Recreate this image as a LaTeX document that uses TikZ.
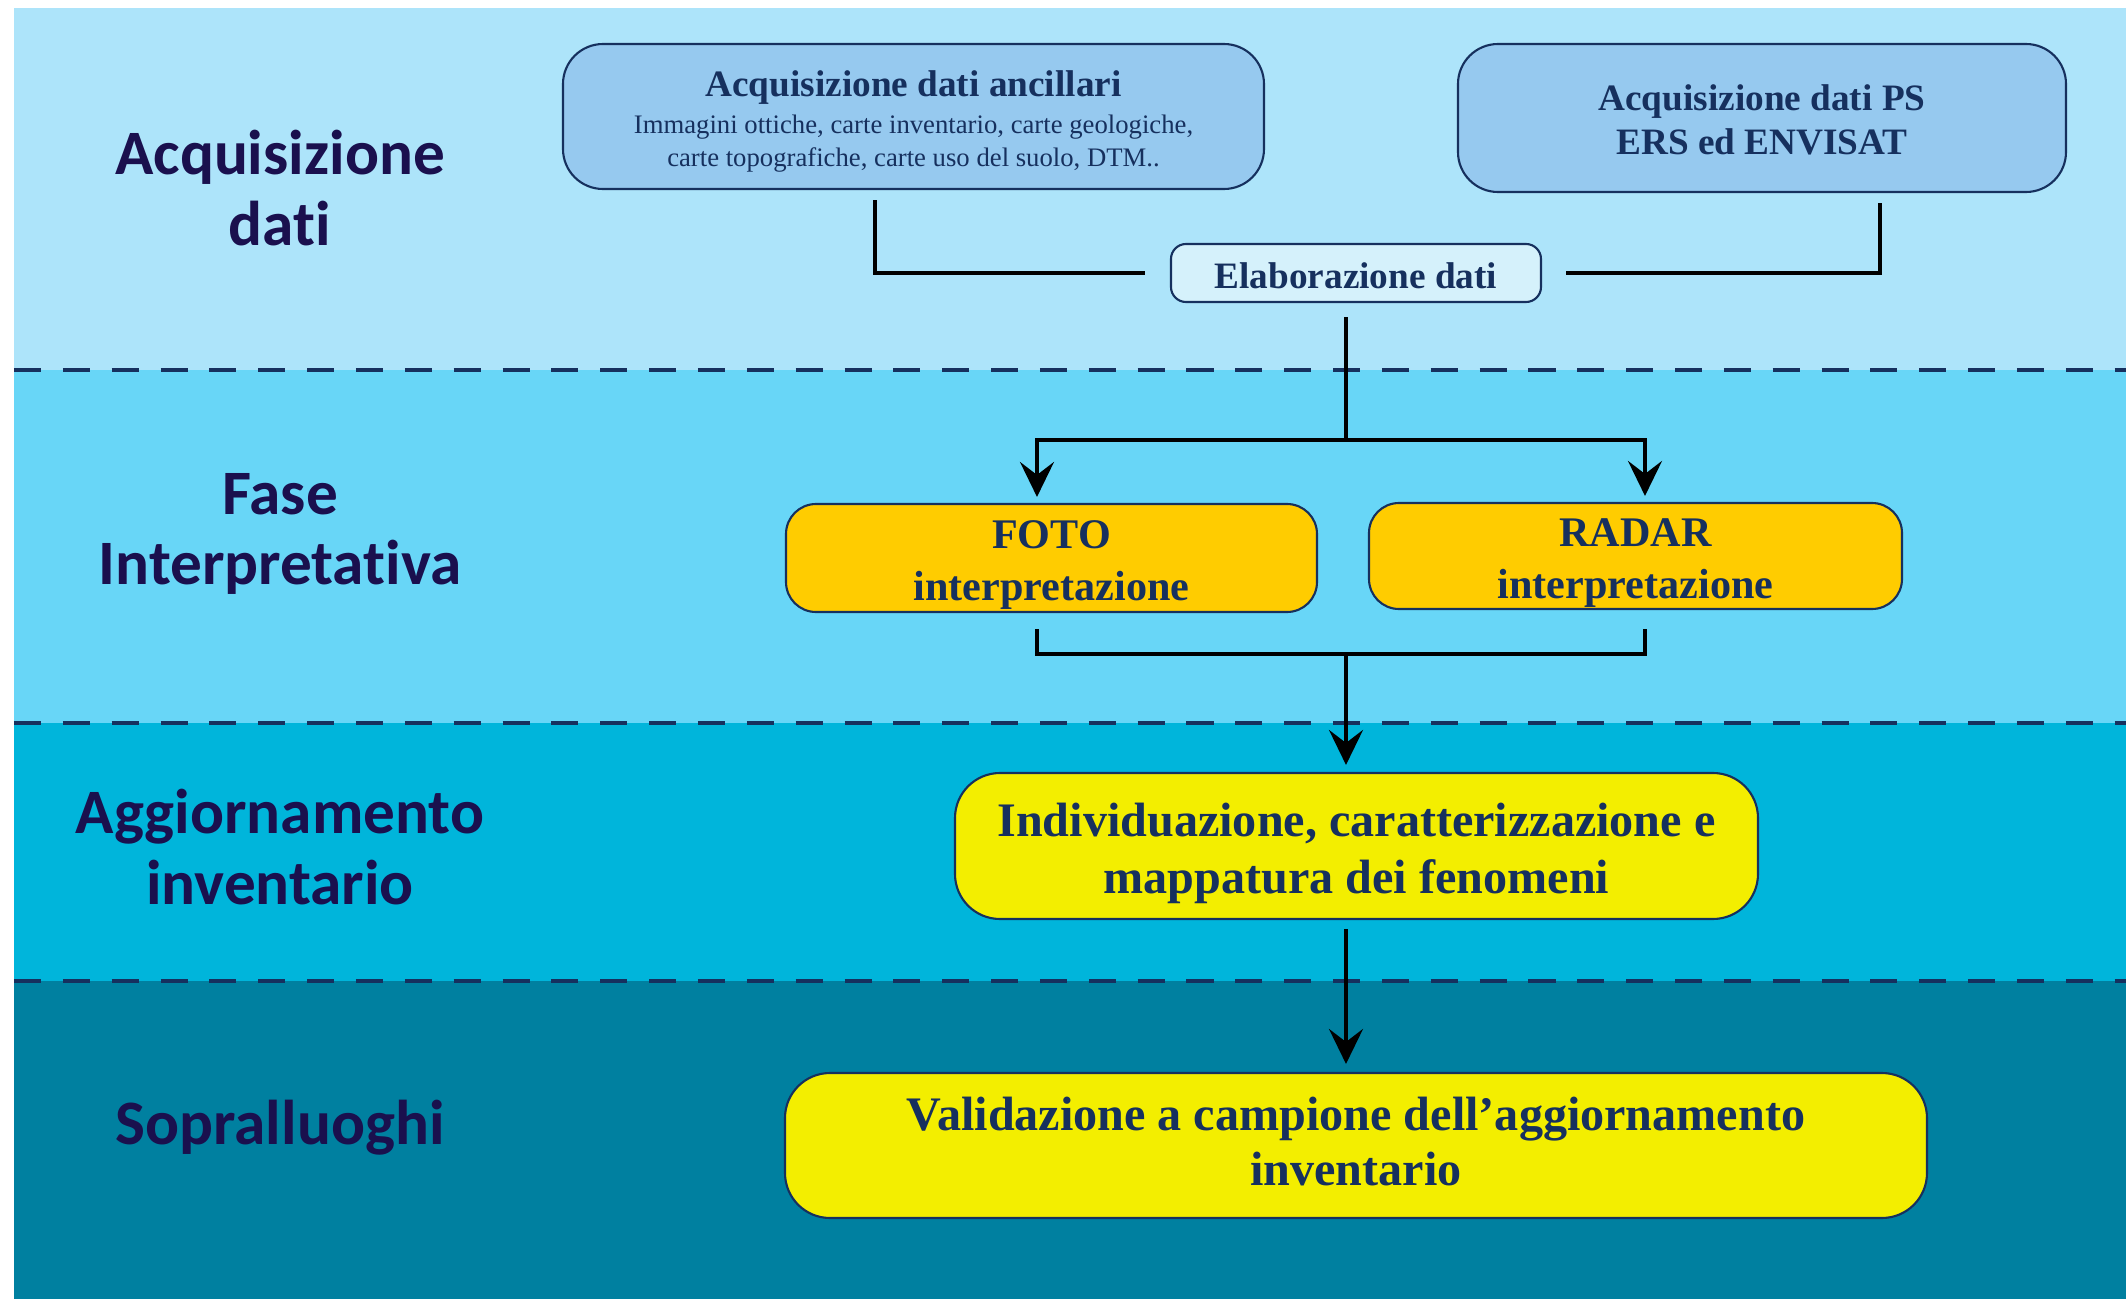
\documentclass[tikz,border=0pt]{standalone}
\usepackage{fontspec}
\setmainfont{Liberation Serif}
\newfontfamily\phasefont[Ligatures=NoCommon]{Carlito}
\usetikzlibrary{arrows.meta}
\definecolor{bandA}{RGB}{173,228,250}
\definecolor{bandB}{RGB}{104,214,247}
\definecolor{bandC}{RGB}{0,181,219}
\definecolor{bandD}{RGB}{0,128,160}
\definecolor{navy}{RGB}{22,48,94}
\definecolor{phase}{RGB}{26,16,78}
\definecolor{boxblue}{RGB}{150,201,239}
\definecolor{boxpale}{RGB}{213,241,251}
\definecolor{boxgold}{RGB}{255,204,0}
\definecolor{boxyellow}{RGB}{243,238,0}

\begin{document}
\begin{tikzpicture}[
  box/.style={draw=navy, line width=0.6pt, text=navy, font=\bfseries, align=flush center, inner sep=0pt, rounded corners=0.4cm},
  phaselab/.style={text=phase, align=center, font=\phasefont\bfseries\fontsize{18}{20}\selectfont},
  sep/.style={draw=navy, line width=0.9pt, dash pattern=on 7.7pt off 6.2pt},
  link/.style={line width=1pt},
  arr/.style={link, -{Stealth[length=3.5mm, width=3.4mm, inset=1.3mm]}}
]
  \useasboundingbox (0,0) rectangle (21.26,-12.99);
  \fill[white] (0,0) rectangle (21.26,-12.99);
  \fill[bandA] (0.14,-0.08) rectangle (21.26,-3.70);
  \fill[bandB] (0.14,-3.70) rectangle (21.26,-7.23);
  \fill[bandC] (0.14,-7.23) rectangle (21.26,-9.81);
  \fill[bandD] (0.14,-9.81) rectangle (21.26,-12.99);
  \foreach \y in {-3.70,-7.23,-9.81}
    \draw[sep] (0.14,\y) -- (21.26,\y);

  \node[phaselab] (ph1) at (2.80,-1.88) {Acquisizione\\dati};
  \node[phaselab] (ph2) at (2.80,-5.34) {Fase\\Interpretativa};
  \node[phaselab] (ph3) at (2.80,-8.47) {Aggiornamento\\inventario};
  \node[phaselab] (ph4) at (2.80,-11.28) {Sopralluoghi};

  \node[box, fill=boxblue, minimum width=7.01cm, minimum height=1.45cm, text width=6.6cm] (anc) at (9.135,-1.165)
    {{\fontsize{10.6}{13}\selectfont\rule{0pt}{10.2pt}Acquisizione dati ancillari\par}\vspace{1.2pt}
     {\fontsize{7.6}{9.3}\selectfont\mdseries Immagini ottiche, carte inventario, carte geologiche,\par carte topografiche, carte uso del suolo, DTM..\par}};
  \node[box, fill=boxblue, minimum width=6.08cm, minimum height=1.48cm, text width=5.7cm, font=\bfseries\fontsize{10.6}{12.7}\selectfont] (ps) at (17.62,-1.18)
    {\rule{0pt}{8.5pt}Acquisizione dati PS\\ERS ed ENVISAT};
  \node[box, fill=boxpale, rounded corners=0.15cm, minimum width=3.70cm, minimum height=0.58cm, text width=3.5cm, font=\bfseries\fontsize{10.6}{12.7}\selectfont] (elab) at (13.56,-2.73)
    {\rule{0pt}{8.7pt}Elaborazione dati};
  \node[box, fill=boxgold, rounded corners=0.3cm, minimum width=5.31cm, minimum height=1.08cm, text width=5cm, font=\bfseries\fontsize{12}{15}\selectfont] (foto) at (10.515,-5.58)
    {\rule{0pt}{11.9pt}FOTO\\interpretazione};
  \node[box, fill=boxgold, rounded corners=0.3cm, minimum width=5.33cm, minimum height=1.06cm, text width=5cm, font=\bfseries\fontsize{12}{15}\selectfont] (radar) at (16.355,-5.56)
    {\rule{0pt}{11.9pt}RADAR\\interpretazione};
  \node[box, fill=boxyellow, rounded corners=0.45cm, minimum width=8.03cm, minimum height=1.46cm, text width=7.7cm, font=\bfseries\fontsize{13.7}{16.2}\selectfont] (indiv) at (13.565,-8.46)
    {\rule{0pt}{13.7pt}Individuazione, caratterizzazione e\\mappatura dei fenomeni};
  \node[box, fill=boxyellow, rounded corners=0.45cm, minimum width=11.42cm, minimum height=1.45cm, text width=11cm, font=\bfseries\fontsize{13.7}{15.6}\selectfont] (valid) at (13.56,-11.455)
    {Validazione a campione dell’aggiornamento\\inventario\rule[-2.3pt]{0pt}{1pt}};

  \coordinate (a1) at (8.75,-2.00);
  \coordinate (p1) at (18.80,-2.03);
  \coordinate (fx) at (10.37,0);
  \coordinate (rx) at (16.45,0);
  \coordinate (split1) at (13.46,-4.40);
  \coordinate (join1) at (13.46,-6.54);

  \draw[link, shorten >=0.25cm] (a1) |- (elab.west);
  \draw[link, shorten >=0.24cm] (p1) |- (elab.east);
  \draw[link, shorten <=0.14cm] (elab.south -| split1) -- (split1);
  \draw[arr, shorten >=0.06cm] (split1) -| (foto.north -| fx);
  \draw[arr, shorten >=0.06cm] (split1) -| (radar.north -| rx);
  \draw[link, shorten <=0.16cm, shorten >=0.19cm] (foto.south -| fx) |- (join1) -| (radar.south -| rx);
  \draw[arr, shorten >=0.07cm] (join1) -- (indiv.north -| join1);
  \draw[arr, shorten <=0.09cm, shorten >=0.08cm] (indiv.south -| join1) -- (valid.north -| join1);
\end{tikzpicture}
\end{document}
